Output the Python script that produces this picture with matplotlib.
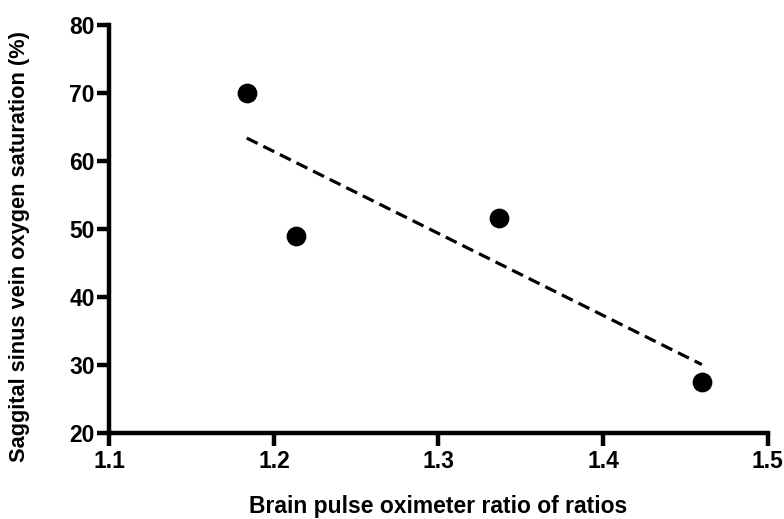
import numpy as np
import matplotlib
matplotlib.use("Agg")
import matplotlib.pyplot as plt

plt.rcParams['font.family'] = ['Liberation Sans', 'DejaVu Sans']
plt.rcParams['font.weight'] = 'bold'

# data
ratio_of_ratios = [1.1835, 1.2134, 1.337, 1.460]
sss_saturation = [70.0, 49.0, 51.6, 27.5]

x_ticks = [1.1, 1.2, 1.3, 1.4, 1.5]
y_ticks = [20, 30, 40, 50, 60, 70, 80]


def main():
    fig = plt.figure(figsize=(7.84, 5.19), dpi=100)
    ax = fig.add_axes([0.1394, 0.1657, 0.8398, 0.7861])

    ax.scatter(ratio_of_ratios, sss_saturation, s=175, color='black', zorder=3)

    # linear fit, drawn over the data range
    slope, intercept = np.polyfit(ratio_of_ratios, sss_saturation, 1)
    xs = np.array([min(ratio_of_ratios), max(ratio_of_ratios)])
    ax.plot(xs, slope * xs + intercept, color='black', lw=2.3, dashes=(3.8, 2))

    ax.set_xlim(1.1, 1.5)
    ax.set_ylim(20, 80)
    ax.set_xticks(x_ticks)
    ax.set_xticklabels([str(t) for t in x_ticks])
    ax.set_yticks(y_ticks)

    for side in ['top', 'right']:
        ax.spines[side].set_visible(False)
    for side in ['left', 'bottom']:
        ax.spines[side].set_linewidth(3.2)
    ax.tick_params(width=3.2, length=9, labelsize=16.5)
    ax.tick_params(axis='x', pad=3.5)
    ax.tick_params(axis='y', pad=1.5)

    ax.set_xlabel('Brain pulse oximeter ratio of ratios', fontsize=16.5, fontweight='bold')
    ax.set_ylabel('Saggital sinus vein oxygen saturation (%)', fontsize=15.7, fontweight='bold')
    ax.xaxis.set_label_coords(0.5, -0.152)
    ax.yaxis.set_label_coords(-0.12, 0.457)

    fig.savefig('out.png', dpi=100)


if __name__ == "__main__":
    main()
